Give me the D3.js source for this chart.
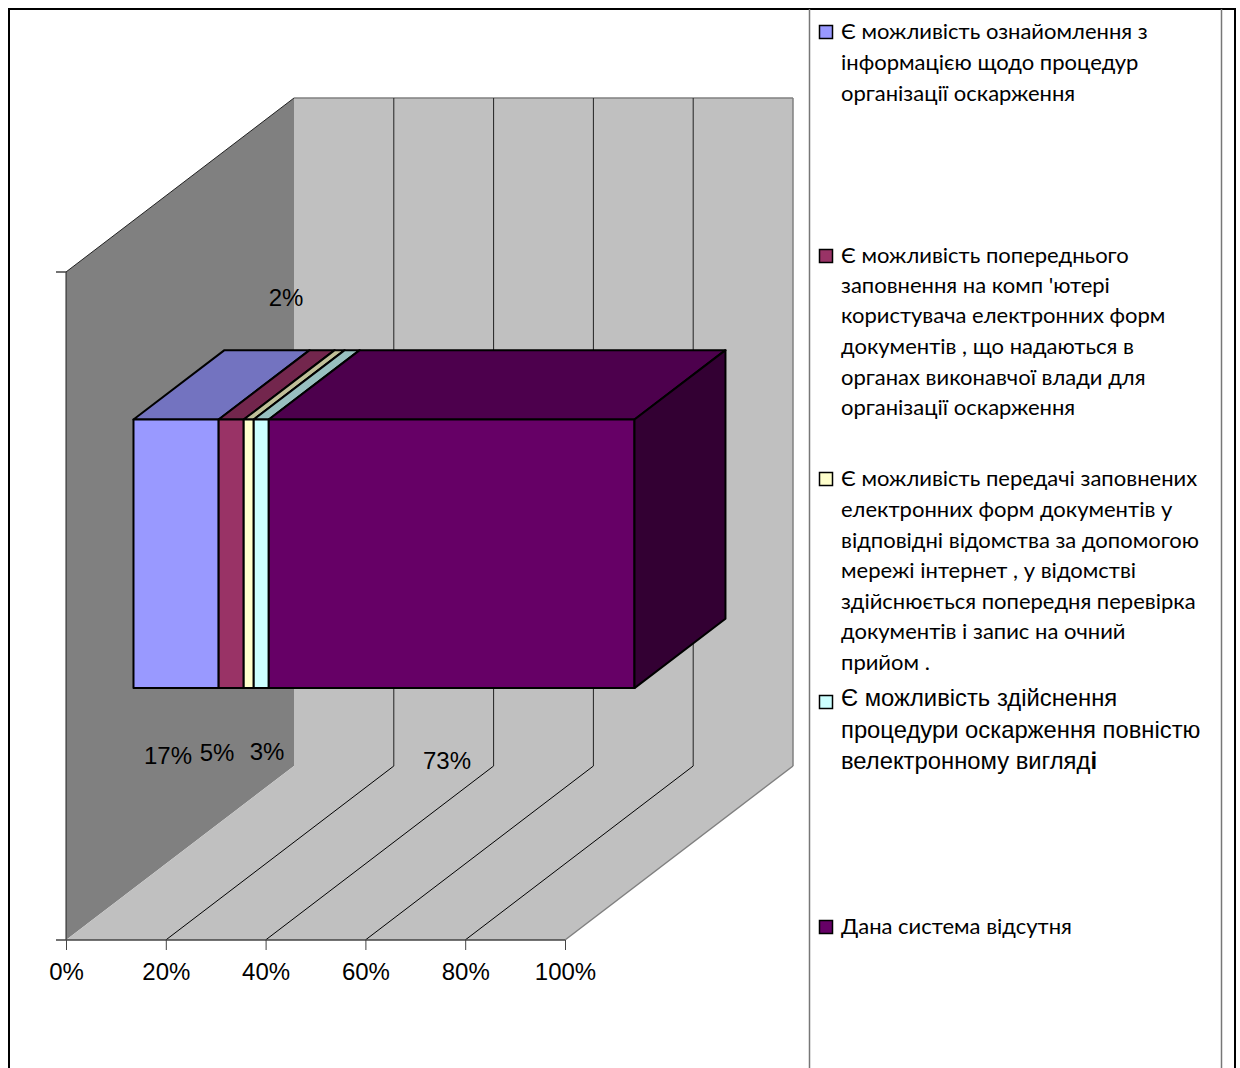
<!DOCTYPE html>
<html><head><meta charset="utf-8">
<script src="https://cdn.jsdelivr.net/npm/d3@7/dist/d3.min.js"></script>
<style>html,body{margin:0;padding:0;background:#fff;overflow:hidden}svg{display:block}</style>
</head><body>
<svg id="chart" width="1240" height="1068"></svg>
<script>
// Survey shares, one stacked 3D bar
const seriesNames = [
  ["Є можливість ознайомлення з","інформацією щодо процедур","організації оскарження"],
  ["Є можливість попереднього","заповнення на комп 'ютері","користувача електронних форм","документів , що надаються в","органах виконавчої влади для","організації оскарження"],
  ["Є можливість передачі заповнених","електронних форм документів у","відповідні відомства за допомогою","мережі інтернет , у відомстві","здійснюється попередня перевірка","документів і запис на очний","прийом ."],
  ["Є можливість здійснення","процедури оскарження повністю","велектронному вигляд"],
  ["Дана система відсутня"]
];
const seriesValues = [17, 5, 2, 3, 73];
const seriesColors = ["#9999FF", "#993366", "#FFFFCC", "#CCFFFF", "#660066"];
const tickValues = [0, 20, 40, 60, 80, 100];

// Layout of the drawing
const legendLineY = [[32,63,94],[256,286,316,347,378,408],[479,510,541,571,602,632,663],[698,730,761],[927]];
const labelCentres = [[168,755],[217,752],[286,297],[267,751],[447,760]];

const svg = d3.select("#chart");
const x = d3.scaleLinear().domain([0, 100]).range([66, 565]);
const depth = d3.scaleLinear().domain([0, 1]).range([0, 228]);
const rise = d3.scaleLinear().domain([0, 1]).range([0, 174]);
const h = d3.scaleLinear().domain([0, 1]).range([940, 272]);
// Oblique projection: value along x, d into the box, t up the wall
const pt = (v, d, t) => [x(v) + depth(d), h(t) - rise(d)];
const poly = pts => "M" + pts.map(p => p.map(n => +n.toFixed(2)).join(",")).join("L") + "Z";
const line = (a, b, stroke, w) => svg.append("line")
  .attr("x1", a[0]).attr("y1", a[1]).attr("x2", b[0]).attr("y2", b[1])
  .attr("stroke", stroke).attr("stroke-width", w);

// Page table rules
svg.append("rect").attr("x", 9).attr("y", 9).attr("width", 1226).attr("height", 1080)
  .attr("fill", "none").attr("stroke", "#000").attr("stroke-width", 2);
line([809.5, 9], [809.5, 1068], "#777", 1.5);
line([1221.5, 9], [1221.5, 1068], "#777", 1.5);

// Walls and floor
svg.append("path").attr("d", poly([pt(0,0,0), pt(0,1,0), pt(0,1,1), pt(0,0,1)])).attr("fill", "#808080");
svg.append("path").attr("d", poly([pt(0,1,0), pt(100,1,0), pt(100,1,1), pt(0,1,1)])).attr("fill", "#C0C0C0");
svg.append("path").attr("d", poly([pt(0,0,0), pt(100,0,0), pt(100,1,0), pt(0,1,0)])).attr("fill", "#C0C0C0");
line(pt(0,0,1), pt(0,1,1), "#222", 1);
line(pt(0,0,0), pt(0,0,1), "#222", 1);
line(pt(0,1,1), pt(100,1,1), "#808080", 1.5);
line(pt(100,1,1), pt(100,1,0), "#808080", 1.5);
line(pt(100,1,0), pt(100,0,0), "#808080", 1.5);
tickValues.slice(1, -1).forEach(v => {
  line(pt(v,0,0), pt(v,1,0), "#000", 1);
  line(pt(v,1,0), pt(v,1,1), "#222", 1);
});

// Value axis
const axis = svg.append("g").attr("transform", "translate(0,940)")
  .call(d3.axisBottom(x).tickValues(tickValues).tickFormat(d => d + "%").tickSize(10).tickPadding(13));
axis.select(".domain").remove();
axis.selectAll("line").attr("stroke", "#444");
axis.selectAll("text").attr("font-family", "Liberation Sans").attr("font-size", 24).attr("fill", "#000");
line([56, 940], [565, 940], "#444", 1.5);
line([56, 272], [66, 272], "#444", 1.5);

// Stacked bar, front at d0 and back at d1, from t0 to t1
const d0 = 0.296, d1 = 0.695, t0 = 0.3, t1 = 0.702;
const stack = d3.cumsum(seriesValues);
const barScale = 501 / 499;
const segs = seriesValues.map((v, i) => ({ a: (stack[i] - v) * barScale, b: stack[i] * barScale, c: seriesColors[i] }));
const draw = (d, fill) => svg.append("path").attr("d", d).attr("fill", fill)
  .attr("stroke", "#000").attr("stroke-width", 2).attr("stroke-linejoin", "round");
segs.forEach(s => {
  draw(poly([pt(s.a,d0,t1), pt(s.b,d0,t1), pt(s.b,d1,t1), pt(s.a,d1,t1)]), d3.rgb(s.c).darker(0.8).formatHex());
});
segs.forEach(s => {
  draw(poly([pt(s.a,d0,t0), pt(s.b,d0,t0), pt(s.b,d0,t1), pt(s.a,d0,t1)]), s.c);
});
const last = segs[segs.length - 1];
draw(poly([pt(last.b,d0,t0), pt(last.b,d1,t0), pt(last.b,d1,t1), pt(last.b,d0,t1)]), "#330033");

// Data labels
svg.selectAll("text.val").data(seriesValues).join("text").attr("class", "val")
  .attr("x", (d, i) => labelCentres[i][0]).attr("y", (d, i) => labelCentres[i][1]).attr("dy", "0.36em")
  .attr("text-anchor", "middle").attr("font-family", "Liberation Sans").attr("font-size", 24)
  .text(d => d + "%");

// Legend
seriesNames.forEach((lines, i) => {
  const sans = i === 3;
  const ys = legendLineY[i];
  svg.append("rect").attr("x", 819.5).attr("y", ys[0] - 6.5 + (sans ? 4 : 0)).attr("width", 13).attr("height", 13)
    .attr("fill", seriesColors[i]).attr("stroke", "#000").attr("stroke-width", 1.5);
  lines.forEach((t, j) => {
    const label = svg.append("text").attr("x", 841).attr("y", ys[j]).attr("dy", "0.33em")
      .attr("font-family", sans ? "Liberation Sans" : "Lato, 'Open Sans'")
      .attr("font-size", sans ? 23.8 : 22).attr("fill", "#000").text(t);
    // the closing letter of this entry is set in bold
    if (sans && j === lines.length - 1) label.append("tspan").attr("font-weight", "bold").text("і");
  });
});
</script>
</body></html>
